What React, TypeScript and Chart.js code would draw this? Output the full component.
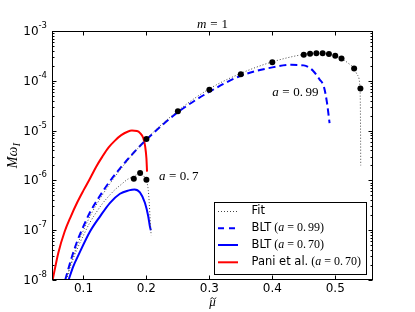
import React, { useEffect, useRef } from "react";
import { Chart, registerables } from "chart.js";

Chart.register(...registerables);

// ---- data ----
const xTickValues = [0.1, 0.2, 0.3, 0.4, 0.5];
const yDecadeExps = [-8, -7, -6, -5, -4, -3];
const yMinorMultipliers = [2, 3, 4, 5, 6, 7, 8, 9];

// Fit points (a = 0.99)
const dots099X = [0.20, 0.25, 0.30, 0.35, 0.40, 0.45, 0.46, 0.47, 0.48, 0.49, 0.50, 0.51, 0.53, 0.54];
const dots099Y = [6.8e-6, 2.44e-5, 6.6e-5, 1.36e-4, 2.37e-4, 3.35e-4, 3.51e-4, 3.57e-4, 3.57e-4, 3.46e-4, 3.2e-4, 2.79e-4, 1.76e-4, 6.98e-5];
// Fit points (a = 0.70)
const dots070X = [0.18, 0.19, 0.20];
const dots070Y = [1.08e-6, 1.4e-6, 1.03e-6];

// Fit curve (a = 0.99)
const fit099X = [0.073, 0.08, 0.09, 0.10, 0.11, 0.12, 0.14, 0.16, 0.18, 0.20, 0.25, 0.30, 0.35, 0.40, 0.45, 0.47, 0.48, 0.49, 0.50, 0.51, 0.52, 0.53, 0.535, 0.5394, 0.5400, 0.5403, 0.5405];
const fit099Y = [1e-8, 2.1e-8, 5.0e-8, 1.0e-7, 1.86e-7, 3.16e-7, 7.9e-7, 1.74e-6, 3.55e-6, 6.8e-6, 2.5e-5, 6.9e-5, 1.41e-4, 2.4e-4, 3.39e-4, 3.59e-4, 3.59e-4, 3.47e-4, 3.2e-4, 2.79e-4, 2.29e-4, 1.76e-4, 1.32e-4, 6.98e-5, 2.5e-5, 6.3e-6, 2.0e-6];
// Fit curve (a = 0.70)
const fit070X = [0.072, 0.08, 0.09, 0.10, 0.11, 0.12, 0.13, 0.14, 0.15, 0.16, 0.17, 0.18, 0.184, 0.19, 0.197, 0.20, 0.203, 0.2045, 0.206, 0.2075];
const fit070Y = [1e-8, 2.0e-8, 4.2e-8, 7.9e-8, 1.41e-7, 2.24e-7, 3.4e-7, 4.8e-7, 6.5e-7, 8.3e-7, 1.05e-6, 1.2e-6, 1.29e-6, 1.32e-6, 1.17e-6, 1.0e-6, 6.3e-7, 3.55e-7, 1.62e-7, 7.9e-8];
// BLT (a = 0.99)
const blt099X = [0.071, 0.08, 0.09, 0.10, 0.11, 0.12, 0.14, 0.16, 0.18, 0.20, 0.25, 0.30, 0.35, 0.40, 0.43, 0.45, 0.465, 0.475, 0.482, 0.487, 0.491];
const blt099Y = [1e-8, 2.5e-8, 6.0e-8, 1.2e-7, 2.24e-7, 3.7e-7, 8.9e-7, 1.86e-6, 3.63e-6, 6.6e-6, 2.34e-5, 6.0e-5, 1.26e-4, 1.86e-4, 2.09e-4, 2.04e-4, 1.58e-4, 1.07e-4, 7.6e-5, 3.55e-5, 1.41e-5];
// BLT (a = 0.70)
const blt070X = [0.0763, 0.084, 0.092, 0.1106, 0.1264, 0.1422, 0.158, 0.172, 0.181, 0.1897, 0.1976, 0.2029, 0.2055, 0.207];
const blt070Y = [1e-8, 1.9e-8, 3.16e-8, 9.5e-8, 1.9e-7, 3.55e-7, 5.4e-7, 6.3e-7, 6.6e-7, 5.75e-7, 3.55e-7, 1.9e-7, 1.2e-7, 1.0e-7];
// Pani et al. (a = 0.70)
const paniX = [0.051, 0.06, 0.07, 0.08, 0.09, 0.10, 0.11, 0.12, 0.13, 0.14, 0.15, 0.16, 0.17, 0.177, 0.185, 0.19, 0.195, 0.198, 0.2, 0.201];
const paniY = [1e-8, 3.5e-8, 9.3e-8, 1.9e-7, 3.6e-7, 6.3e-7, 1.07e-6, 1.86e-6, 3.0e-6, 4.6e-6, 6.3e-6, 8.1e-6, 9.5e-6, 1.0e-5, 9.8e-6, 8.9e-6, 7.1e-6, 4.8e-6, 2.8e-6, 1.5e-6];

const SERIF = '"Liberation Serif"';
const SANS = '"DejaVu Sans"';

const pts = (xs: number[], ys: number[]) => xs.map((x, i) => ({ x, y: ys[i] }));

type Part = { t: string; font: string; gap?: number; dy?: number };

function drawParts(ctx: CanvasRenderingContext2D, parts: Part[], x: number, y: number, align: "left" | "center" | "right") {
  let total = 0;
  for (const p of parts) {
    ctx.font = p.font;
    total += (p.gap || 0) + ctx.measureText(p.t).width;
  }
  let cx = align === "left" ? x : align === "center" ? x - total / 2 : x - total;
  ctx.textAlign = "left";
  for (const p of parts) {
    ctx.font = p.font;
    cx += p.gap || 0;
    ctx.fillText(p.t, cx, y + (p.dy || 0));
    cx += ctx.measureText(p.t).width;
  }
  return total;
}

const mathParts = (size: number, num: string, dec: string): Part[] => [
  { t: "a", font: `italic ${size}px ${SERIF}` },
  { t: "=", font: `${size}px ${SERIF}`, gap: 3.5 },
  { t: num + ".", font: `${size}px ${SERIF}`, gap: 3.5 },
  { t: dec, font: `${size}px ${SERIF}`, gap: 2.5 },
];

const decorPlugin = {
  id: "decor",
  afterDraw(chart: any) {
    const { ctx, chartArea: a, scales } = chart;
    const xs = scales.x;
    const ys = scales.y;
    ctx.save();
    ctx.fillStyle = "#000";
    ctx.strokeStyle = "#000";
    ctx.lineWidth = 1;
    ctx.setLineDash([]);
    const L = Math.round(a.left) + 0.5;
    const R = Math.round(a.right) - 0.5;
    const T = Math.round(a.top) + 0.5;
    const B = Math.round(a.bottom) - 0.5;
    ctx.strokeRect(L, T, R - L, B - T);

    const seg = (x1: number, y1: number, x2: number, y2: number) => {
      ctx.beginPath();
      ctx.moveTo(x1, y1);
      ctx.lineTo(x2, y2);
      ctx.stroke();
    };
    for (const v of xTickValues) {
      const px = Math.round(xs.getPixelForValue(v)) + 0.5;
      seg(px, B, px, B - 4);
      seg(px, T, px, T + 4);
    }
    for (const e of yDecadeExps) {
      const base = Math.pow(10, e);
      const py = Math.round(ys.getPixelForValue(base)) + 0.5;
      seg(L, py, L + 4, py);
      seg(R, py, R - 4, py);
      if (e < -3) {
        for (const m of yMinorMultipliers) {
          const qy = Math.round(ys.getPixelForValue(base * m)) + 0.5;
          seg(L, qy, L + 2, qy);
          seg(R, qy, R - 2, qy);
        }
      }
      ctx.textBaseline = "middle";
      ctx.font = `8.5px ${SANS}`;
      const sup = String(e);
      const sw = ctx.measureText(sup).width;
      ctx.textAlign = "left";
      ctx.fillText(sup, a.left - 5 - sw, py - 6);
      ctx.font = `12px ${SANS}`;
      ctx.textAlign = "right";
      ctx.fillText("10", a.left - 5 - sw, py + 0.5);
    }

    // title
    ctx.textBaseline = "alphabetic";
    drawParts(
      ctx,
      [
        { t: "m", font: `italic 13px ${SERIF}` },
        { t: "=", font: `13px ${SERIF}`, gap: 4 },
        { t: "1", font: `13px ${SERIF}`, gap: 4 },
      ],
      (a.left + a.right) / 2,
      27.5,
      "center"
    );

    // x axis title: mu with tilde accent
    const cxm = (a.left + a.right) / 2;
    ctx.textBaseline = "alphabetic";
    ctx.textAlign = "center";
    ctx.font = `italic 13px ${SERIF}`;
    ctx.fillText("\u03bc", cxm, 306);
    ctx.save();
    ctx.lineWidth = 0.9;
    ctx.beginPath();
    const tx0 = cxm - 2;
    ctx.moveTo(tx0, 299.3);
    ctx.bezierCurveTo(tx0 + 1.0, 297.3, tx0 + 2.0, 297.3, tx0 + 2.8, 298.4);
    ctx.bezierCurveTo(tx0 + 3.6, 299.5, tx0 + 4.6, 299.5, tx0 + 5.5, 297.5);
    ctx.stroke();
    ctx.restore();

    // y axis title (rotated)
    ctx.save();
    ctx.translate(17, (a.top + a.bottom) / 2);
    ctx.rotate(-Math.PI / 2);
    ctx.textBaseline = "alphabetic";
    drawParts(
      ctx,
      [
        { t: "M", font: `italic 14px ${SERIF}` },
        { t: "\u03c9", font: `italic 14px ${SERIF}` },
        { t: "I", font: `italic 10px ${SERIF}`, dy: 2.5, gap: 0.5 },
      ],
      0,
      0,
      "center"
    );
    ctx.restore();

    // annotations
    ctx.textBaseline = "middle";
    drawParts(ctx, mathParts(13, "0", "99"), xs.getPixelForValue(0.40), ys.getPixelForValue(5.9e-5), "left");
    drawParts(ctx, mathParts(13, "0", "7"), xs.getPixelForValue(0.22), ys.getPixelForValue(1.19e-6), "left");

    // legend
    const lx0 = 214.5, ly0 = 202.5, lx1 = 366.5, ly1 = 274.5;
    ctx.fillStyle = "#fff";
    ctx.fillRect(lx0, ly0, lx1 - lx0, ly1 - ly0);
    ctx.strokeStyle = "#000";
    ctx.lineWidth = 1;
    ctx.strokeRect(lx0, ly0, lx1 - lx0, ly1 - ly0);
    const rows = [211, 228.3, 245, 262.3];
    const sx0 = 218, sx1 = 238, tx = 251.5;
    ctx.strokeStyle = "#444";
    ctx.lineWidth = 1;
    ctx.setLineDash([1, 2]);
    seg(sx0, rows[0] + 0.5, sx1, rows[0] + 0.5);
    ctx.strokeStyle = "#0000ff";
    ctx.lineWidth = 2;
    ctx.setLineDash([6, 5]);
    seg(sx0, rows[1], sx1, rows[1]);
    ctx.setLineDash([]);
    seg(sx0, rows[2], sx1, rows[2]);
    ctx.strokeStyle = "#ff0000";
    seg(sx0, rows[3], sx1, rows[3]);

    ctx.fillStyle = "#000";
    ctx.textBaseline = "middle";
    const lf = `11.5px ${SANS}`;
    const legParts = (label: string, num: string, dec: string): Part[] => [
      { t: label, font: lf },
      { t: "(", font: `12px ${SERIF}`, gap: 3 },
      { t: "a", font: `italic 12px ${SERIF}` },
      { t: "=", font: `12px ${SERIF}`, gap: 3 },
      { t: num + ".", font: `12px ${SERIF}`, gap: 3 },
      { t: dec, font: `12px ${SERIF}`, gap: 2 },
      { t: ")", font: `12px ${SERIF}` },
    ];
    drawParts(ctx, [{ t: "Fit", font: lf }], tx, rows[0], "left");
    drawParts(ctx, legParts("BLT", "0", "99"), tx, rows[1], "left");
    drawParts(ctx, legParts("BLT", "0", "70"), tx, rows[2], "left");
    drawParts(ctx, legParts("Pani et al.", "0", "70"), tx, rows[3], "left");

    ctx.restore();
  },
};

export default function App() {
  const ref = useRef<HTMLCanvasElement | null>(null);
  useEffect(() => {
    if (!ref.current) return;
    const lineDs = (label: string, data: any[], color: string, width: number, dash: number[]) => ({
      type: "line" as const,
      label,
      data,
      borderColor: color,
      backgroundColor: color,
      borderWidth: width,
      borderDash: dash,
      pointRadius: 0,
      fill: false,
      cubicInterpolationMode: "monotone" as const,
    });
    const chart = new Chart(ref.current, {
      type: "line",
      data: {
        datasets: [
          {
            type: "scatter" as any,
            label: "pts099",
            data: pts(dots099X, dots099Y),
            backgroundColor: "#000",
            borderColor: "#000",
            pointRadius: 3,
            borderWidth: 0,
            showLine: false,
          } as any,
          {
            type: "scatter" as any,
            label: "pts070",
            data: pts(dots070X, dots070Y),
            backgroundColor: "#000",
            borderColor: "#000",
            pointRadius: 3,
            borderWidth: 0,
            showLine: false,
          } as any,
          lineDs("Fit", pts(fit099X, fit099Y), "#444", 1, [1, 2]),
          lineDs("Fit070", pts(fit070X, fit070Y), "#444", 1, [1, 2]),
          lineDs("BLT (a=0.99)", pts(blt099X, blt099Y), "#0000ff", 2, [7, 4]),
          lineDs("BLT (a=0.70)", pts(blt070X, blt070Y), "#0000ff", 2, []),
          lineDs("Pani et al. (a=0.70)", pts(paniX, paniY), "#ff0000", 2, []),
        ],
      },
      options: {
        responsive: false,
        animation: false,
        devicePixelRatio: 1,
        layout: { padding: { top: 31, right: 42, left: 0, bottom: 0 } },
        plugins: { legend: { display: false }, tooltip: { enabled: false }, title: { display: false } },
        scales: {
          x: {
            type: "linear",
            min: 0.05,
            max: 0.56,
            afterBuildTicks: (s: any) => {
              s.ticks = xTickValues.map((v) => ({ value: v }));
            },
            afterFit: (s: any) => {
              s.height = 32;
            },
            grid: { display: false, drawTicks: false, tickLength: 0 },
            border: { display: false },
            ticks: {
              color: "#000",
              font: { family: "DejaVu Sans", size: 12 },
              padding: 2,
              maxRotation: 0,
              callback: (v: any) => String(v),
            },
          },
          y: {
            type: "logarithmic",
            min: 1e-8,
            max: 1e-3,
            afterFit: (s: any) => {
              s.width = 52;
            },
            grid: { display: false },
            border: { display: false },
            ticks: { display: false },
          },
        },
      },
      plugins: [decorPlugin],
    });
    return () => chart.destroy();
  }, []);
  return (
    <div style={{ position: "fixed", left: 0, top: 0, width: 415, height: 312, background: "#fff" }}>
      <canvas ref={ref} width={415} height={312} style={{ display: "block" }} />
    </div>
  );
}
